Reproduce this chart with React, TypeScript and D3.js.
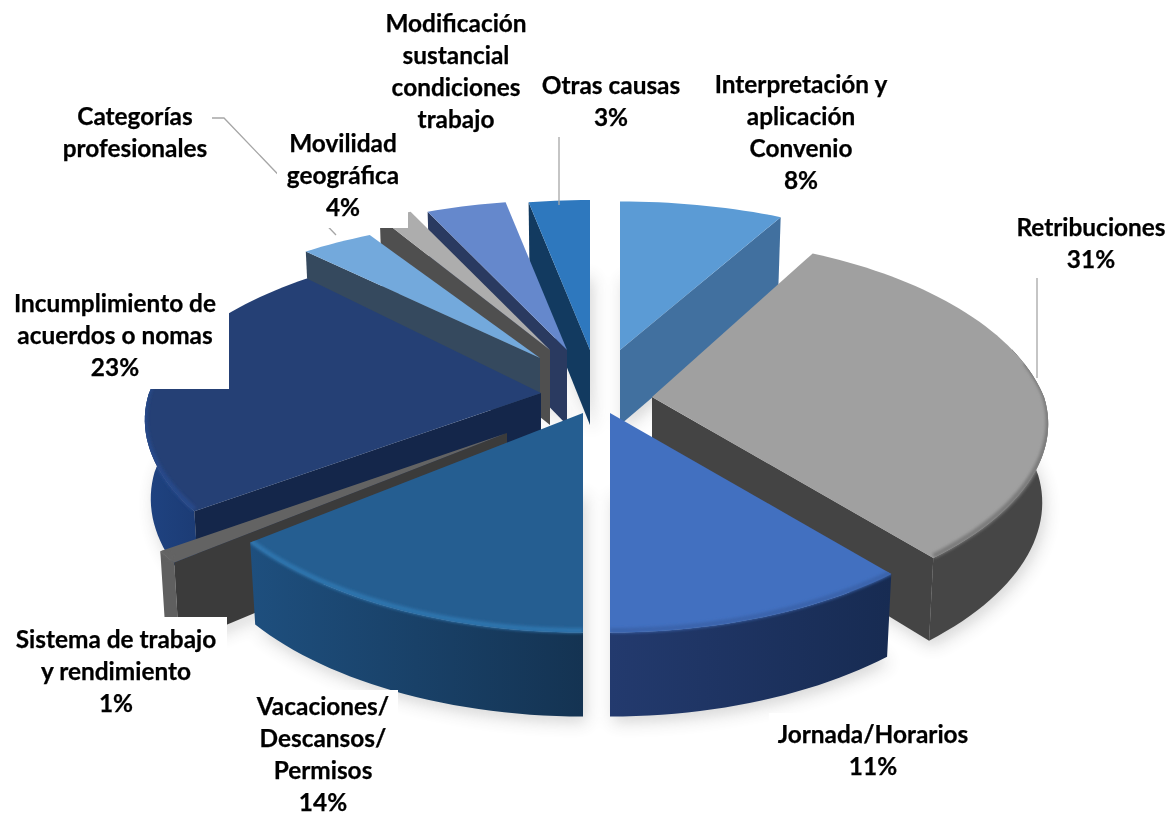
import React from "react";
import * as d3 from "d3";

// ---- data ----
const categories = [
  "Interpretación y aplicación Convenio",
  "Retribuciones",
  "Jornada/Horarios",
  "Vacaciones/ Descansos/ Permisos",
  "Sistema de trabajo y rendimiento",
  "Incumplimiento de acuerdos o nomas",
  "Movilidad geográfica",
  "Categorías profesionales",
  "Modificación sustancial condiciones trabajo",
  "Otras causas",
];
const values = [8, 31, 11, 14, 1, 23, 3.5, 1.6, 3.9, 3];
const labelLines = [
  ["Interpretación y", "aplicación", "Convenio"],
  ["Retribuciones"],
  ["Jornada/Horarios"],
  ["Vacaciones/", "Descansos/", "Permisos"],
  ["Sistema de trabajo", "y rendimiento"],
  ["Incumplimiento de", "acuerdos o nomas"],
  ["Movilidad", "geográfica"],
  ["Categorías", "profesionales"],
  ["Modificación", "sustancial", "condiciones", "trabajo"],
  ["Otras causas"],
];
const showPercent = [true, true, true, true, true, true, true, false, false, true];

// ---- style / layout ----
const topColors = ["#5b9bd5", "#a0a0a0", "#4270c0", "#255e91", "#636363", "#254075", "#73a9dc", "#adadad", "#6588cc", "#2e78be"];
const faceColors = ["#41709f", "#444444", "#1a2e58", "#163a5e", "#3b3b3b", "#14264a", "#35495e", "#4f4f4f", "#2a3a60", "#123a60"];
const wallLeft = ["#41709f", "#464646", "#233a6e", "#1e4f7e", "#5f5f5f", "#1f4381", "#35495e", "#4f4f4f", "#2a3a60", "#123a60"];
const wallRight = ["#41709f", "#464646", "#172b52", "#143352", "#5f5f5f", "#1c3c76", "#35495e", "#4f4f4f", "#2a3a60", "#123a60"];
const rimColors = ["#5b9bd5", "#7a7a7a", "#3a64ac", "#2f74ad", "#636363", "#27498a", "#73a9dc", "#adadad", "#6588cc", "#2e78be"];
const offsets: [number, number][] = [[23, -35], [55, 12], [13, 28], [-14, 28], [-90, 48], [-56, 8], [-57, -27], [-47, -35], [-30, -35], [-7, -35]];
const backStretch = [0.99, 1.07, 1, 1, 1, 1, 0.93, 1, 1, 1];
const drawOrder = [9, 8, 7, 6, 5, 4, 3, 0, 1, 2];
const labelX = [801, 1091, 873, 323, 116, 115, 343, 135, 456, 611];
const labelY = [85, 228, 735, 707.5, 640, 304, 144, 117, 24, 86];
const labelBoxes = [
  [705, 68, 195, 130], [1010, 210, 161, 68], [769, 713, 210, 75], [238, 690, 160, 127], [5, 617, 222, 103],
  [5, 285, 224, 104], [277, 125, 131, 103], [60, 100, 150, 66], [380, 8, 155, 128], [530, 70, 162, 65],
];
const leaders = [
  [[1037, 278], [1037, 378]],
  [[559, 137], [559, 205]],
  [[212, 118], [224, 118], [336, 235]],
];

const CX = 597, CY = 385, R = 392, RT = 180;
const FONT = "Lato, Carlito, sans-serif";
const FS = 24.4;
const LH = 32.1;

type P = [number, number];
const line = d3.line<P>().x(d => d[0]).y(d => d[1]);

const pie = d3.pie<number>().sort(null).startAngle(0).endAngle(2 * Math.PI).value(d => d);
const arcs = pie(values);

function project(i: number, a: number, low: boolean): P {
  const v = Math.cos(a), u = Math.sin(a);
  const sx = 1 / (1 + (v > 0 ? 0.2 : 0.145) * v);
  const sy = (v > 0 ? backStretch[i] : 1) / (1 + (v > 0 ? 0.2 : 0.18) * v);
  const ax = CX + offsets[i][0], ay = CY + offsets[i][1];
  const x = R * u * sx, y = -RT * v * sy;
  return low ? [ax + x * 0.985, ay + y + 78 - 6 * v] : [ax + x, ay + y];
}
function apex(i: number, low: boolean): P {
  const ax = CX + offsets[i][0], ay = CY + offsets[i][1];
  return low ? [ax, ay + 75] : [ax, ay];
}
function samples(a0: number, a1: number): number[] {
  const n = Math.max(2, Math.ceil((a1 - a0) / 0.03));
  return d3.range(n + 1).map(k => a0 + ((a1 - a0) * k) / n);
}
const deg = Math.PI / 180;

const sliceShapes = arcs.map((d, i) => {
  const a0 = d.startAngle, a1 = d.endAngle;
  const arcTop = samples(a0, a1).map(a => project(i, a, false));
  const arcLow = samples(a0, a1).map(a => project(i, a, true));
  const top = line([apex(i, false), ...arcTop])! + "Z";
  const low = line([apex(i, true), ...arcLow])! + "Z";
  const f0 = Math.max(a0, 75 * deg), f1 = Math.min(a1, 285 * deg);
  const r0 = Math.max(a0, 80 * deg), r1 = Math.min(a1, 280 * deg);
  let wall: string | null = null, rim: string | null = null;
  let gx0 = 0, gx1 = 1;
  if (f1 > f0) {
    const up = samples(f0, f1).map(a => project(i, a, false));
    const dn = samples(f0, f1).map(a => project(i, a, true)).reverse();
    wall = line([...up, ...dn])! + "Z";
    const xs = up.map(p => p[0]);
    gx0 = d3.min(xs)!; gx1 = d3.max(xs)! + 0.01;
  }
  if (r1 > r0) {
    rim = line(samples(r0, r1).map(a => {
      const p = project(i, a, false);
      return [p[0], p[1] - 2] as P;
    }));
  }
  const faces: string[] = [];
  if (Math.sin(a0) < -0.01) {
    faces.push(line([apex(i, false), project(i, a0, false), project(i, a0, true), apex(i, true)])! + "Z");
  }
  if (Math.sin(a1) > 0.01) {
    faces.push(line([apex(i, false), project(i, a1, false), project(i, a1, true), apex(i, true)])! + "Z");
  }
  return { top, low, wall, rim, faces, gx0, gx1 };
});

export default function App() {
  return (
    <svg width={1171} height={817} style={{ position: "absolute", left: 0, top: 0, background: "#fff" }}>
      <defs>
        <filter id="soft" x="-20%" y="-20%" width="140%" height="140%">
          <feGaussianBlur stdDeviation={8} />
        </filter>
        <filter id="rim" x="-10%" y="-30%" width="120%" height="160%">
          <feGaussianBlur stdDeviation={1.6} />
        </filter>
        {sliceShapes.map((s, i) => (
          <linearGradient key={i} id={`w${i}`} gradientUnits="userSpaceOnUse" x1={s.gx0} x2={s.gx1} y1={0} y2={0}>
            <stop offset="0" stopColor={wallLeft[i]} />
            <stop offset="1" stopColor={wallRight[i]} />
          </linearGradient>
        ))}
        {sliceShapes.map((s, i) => (
          <clipPath key={i} id={`c${i}`}>
            <path d={s.top} />
            {s.wall && <path d={s.wall} />}
          </clipPath>
        ))}
      </defs>
      <g filter="url(#soft)" opacity={0.24}>
        {sliceShapes.map((s, i) => (
          <path key={i} d={s.low} fill="#555" transform="translate(3,6)" />
        ))}
      </g>
      {drawOrder.map(i => {
        const s = sliceShapes[i];
        return (
          <g key={i}>
            {s.wall && <path d={s.wall} fill={`url(#w${i})`} />}
            {s.faces.map((f, k) => (
              <path key={k} d={f} fill={faceColors[i]} />
            ))}
            <path d={s.top} fill={topColors[i]} />
            {s.rim && (
              <g clipPath={`url(#c${i})`}>
                <path d={s.rim} fill="none" stroke={rimColors[i]} strokeWidth={5} filter="url(#rim)" />
              </g>
            )}
          </g>
        );
      })}
      {leaders.map((l, i) => (
        <path key={i} d={line(l as P[])!} fill="none" stroke="#a6a6a6" strokeWidth={1.3} />
      ))}
      {labelBoxes.map((b, i) => (
        <rect key={i} x={b[0]} y={b[1]} width={b[2]} height={b[3]} fill="#fff" />
      ))}
      {categories.map((c, i) => {
        const lines = showPercent[i] ? [...labelLines[i], `${Math.round(values[i])}%`] : labelLines[i];
        return (
          <text key={c} textAnchor="middle" fontFamily={FONT} fontWeight={700} fontSize={FS} fill="#000" stroke="#000" strokeWidth={0.25}>
            {lines.map((t, k) => (
              <tspan key={k} x={labelX[i]} y={labelY[i] + k * LH + 7.5}>{t}</tspan>
            ))}
          </text>
        );
      })}
    </svg>
  );
}
